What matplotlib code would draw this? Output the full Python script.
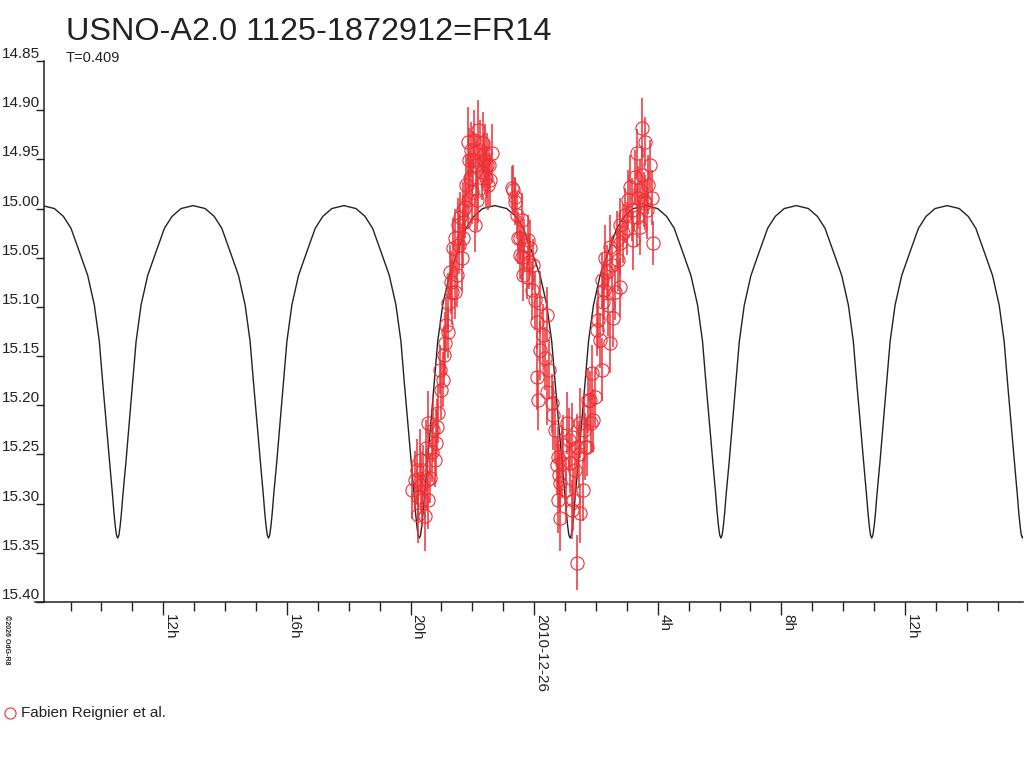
import numpy as np
import matplotlib
matplotlib.use("Agg")
import matplotlib.pyplot as plt
from matplotlib.ticker import FixedLocator, MultipleLocator
from matplotlib.lines import Line2D

# model light curve: one half-cycle (min -> max), mirrored
shape_phase = [0.0, 0.008, 0.016, 0.025, 0.035, 0.045, 0.055, 0.077, 0.10, 0.122,
               0.155, 0.199, 0.254, 0.31, 0.36, 0.42, 0.5]
shape_mag = [15.335, 15.332, 15.323, 15.309, 15.290, 15.273, 15.257, 15.217, 15.176, 15.135,
             15.098, 15.068, 15.044, 15.020, 15.008, 15.000, 14.997]
min_time = 1.165      # hours from 2010-12-26 00:00
half_period = 4.88    # hours between minima

# observations (hours from 2010-12-26 00:00 UT, mag, error)
obs_hours = [-3.85, -3.75, -3.75, -3.69, -3.66, -3.59, -3.53, -3.50, -3.43, -3.43,
             -3.37, -3.30, -3.20, -3.17, -3.14, -3.11, -3.04, -2.95, -2.91, -2.88,
             -2.78, -2.78, -2.72, -2.65, -2.62, -2.56, -2.56, -2.49, -2.46, -2.39,
             -2.33, -2.30, -2.30, -2.23, -2.14, -2.14, -2.07, -2.01, -1.97, -1.91,
             -1.84, -1.81, -1.81, -1.68, -1.65, -1.59, -1.52, -1.42, -1.36, -1.49,
             -0.71, -0.68, -0.61, -0.61, -0.52, -0.45, -0.45, -0.39, -0.39, -0.36,
             -0.23, -0.19, -0.13, -0.06, -0.03, 0.10, 0.19, 0.19, 0.10, 0.13,
             0.36, 0.42, 0.42, 0.58, 0.61, 0.74, 0.78, 0.78, 0.84, 0.84,
             0.91, 1.07, 1.17, 1.23, 1.23, 1.26, 1.39, 1.39, 1.49, 1.49,
             1.59, 1.65, 1.72, 1.75, 1.84, 1.88, 1.91, 1.97, 2.04, 2.07,
             2.20, 2.20, 2.23, 2.30, 2.36, 2.46, 2.46, 2.56, 2.62, 2.72,
             2.78, 2.78, 2.78, 2.88, 3.01, 3.11, 3.20, 3.27, 3.33, 3.33,
             3.37, 3.43, 3.43, 3.50, 3.59, 3.59, 3.66, 3.75, 3.82, 3.85,
             -3.95, -3.79, -3.62, -3.46, -3.27, -3.01, -2.85, -2.69, -2.43, -2.27,
             -2.20, -2.10, -2.04, -1.94, -1.88, -1.75, -1.62, -1.55, -1.46, -0.55,
             -0.32, -0.16, 0.03, 0.29, 0.49, 0.68, 0.81, 0.94, 1.04, 1.13,
             1.33, 1.46, 1.62, 1.81, 2.14, 2.27, 2.40, 2.52, 2.69, 2.95,
             3.04, 3.17, 3.50, 3.56, 3.69]
obs_mag = [15.276, 15.312, 15.293, 15.256, 15.281, 15.266, 15.313, 15.243, 15.296, 15.218,
           15.274, 15.248, 15.256, 15.238, 15.222, 15.208, 15.164, 15.174, 15.149, 15.137,
           15.126, 15.096, 15.065, 15.085, 15.040, 15.085, 15.030, 15.068, 15.017, 15.009,
           15.050, 15.030, 15.001, 14.998, 14.991, 14.932, 14.969, 14.983, 14.951, 15.017,
           14.991, 14.920, 14.981, 14.963, 14.933, 14.944, 14.956, 14.971, 14.944, 14.976,
           14.979, 14.981, 14.988, 14.993, 15.030, 15.030, 15.047, 15.012, 15.049, 15.068,
           15.070, 15.032, 15.040, 15.083, 15.057, 15.115, 15.096, 15.144, 15.171, 15.195,
           15.152, 15.108, 15.187, 15.198, 15.210, 15.261, 15.253, 15.296, 15.279, 15.315,
           15.259, 15.218, 15.259, 15.232, 15.306, 15.296, 15.242, 15.360, 15.218, 15.310,
           15.286, 15.242, 15.242, 15.195, 15.218, 15.167, 15.215, 15.192, 15.123, 15.113,
           15.164, 15.073, 15.095, 15.050, 15.065, 15.137, 15.039, 15.111, 15.085, 15.052,
           15.080, 15.035, 15.017, 15.025, 15.020, 14.978, 15.032, 14.968, 15.009, 14.944,
           14.989, 14.981, 15.019, 14.918, 14.932, 14.994, 15.001, 14.956, 14.989, 15.035,
           15.286, 15.266, 15.296, 15.276, 15.225, 15.184, 15.118, 15.075, 15.037, 15.014,
           14.976, 14.951, 14.940, 14.930, 14.956, 14.940, 14.951, 14.969, 14.956, 15.007,
           15.037, 15.054, 15.093, 15.129, 15.164, 15.225, 15.271, 15.240, 15.286, 15.235,
           15.266, 15.250, 15.225, 15.195, 15.134, 15.083, 15.098, 15.057, 15.032, 15.007,
           14.991, 15.001, 14.966, 14.991, 14.976]
obs_err = [0.030, 0.028, 0.025, 0.032, 0.030, 0.026, 0.035, 0.028, 0.030, 0.033,
           0.025, 0.030, 0.027, 0.034, 0.028, 0.030, 0.025, 0.028, 0.030, 0.032,
           0.026, 0.030, 0.028, 0.033, 0.030, 0.027, 0.030, 0.032, 0.028, 0.026,
           0.034, 0.030, 0.028, 0.032, 0.030, 0.035, 0.028, 0.033, 0.030, 0.027,
           0.032, 0.030, 0.034, 0.028, 0.031, 0.030, 0.033, 0.027, 0.030, 0.025,
           0.022, 0.025, 0.020, 0.024, 0.026, 0.022, 0.025, 0.028, 0.024, 0.026,
           0.022, 0.025, 0.028, 0.030, 0.026, 0.028, 0.032, 0.030, 0.034, 0.030,
           0.032, 0.028, 0.033, 0.030, 0.035, 0.030, 0.032, 0.034, 0.030, 0.033,
           0.035, 0.032, 0.030, 0.034, 0.030, 0.032, 0.033, 0.028, 0.036, 0.030,
           0.032, 0.034, 0.030, 0.033, 0.030, 0.028, 0.032, 0.030, 0.027, 0.030,
           0.032, 0.028, 0.030, 0.033, 0.028, 0.030, 0.032, 0.030, 0.028, 0.032,
           0.030, 0.033, 0.028, 0.030, 0.027, 0.032, 0.030, 0.028, 0.030, 0.025,
           0.032, 0.030, 0.028, 0.030, 0.025, 0.028, 0.030, 0.026, 0.028, 0.022,
           0.030, 0.032, 0.028, 0.030, 0.033, 0.030, 0.028, 0.032, 0.030, 0.028,
           0.030, 0.033, 0.028, 0.030, 0.032, 0.030, 0.028, 0.030, 0.026, 0.024,
           0.026, 0.028, 0.030, 0.032, 0.030, 0.034, 0.032, 0.030, 0.033, 0.032,
           0.030, 0.034, 0.032, 0.030, 0.028, 0.030, 0.032, 0.028, 0.030, 0.028,
           0.030, 0.032, 0.030, 0.028, 0.030]

y_ticks = [14.85, 14.90, 14.95, 15.00, 15.05, 15.10, 15.15, 15.20, 15.25, 15.30, 15.35, 15.40]
x_major = [-12, -8, -4, 0, 4, 8, 12]
x_labels = ["12h", "16h", "20h", "2010-12-26", "4h", "8h", "12h"]

title = "USNO-A2.0 1125-1872912=FR14"
subtitle = "T=0.409"
legend_label = "Fabien Reignier et al."

RED = "#ee3035"

plt.rcParams["font.family"] = ["Liberation Sans", "DejaVu Sans"]

fig = plt.figure(figsize=(10.24, 7.68), dpi=100)
ax = fig.add_axes([44 / 1024, 166 / 768, 979 / 1024, 541 / 768])

# build model curve from the read shape
cycle_phase = shape_phase + [1 - p for p in reversed(shape_phase[:-1])]
cycle_mag = shape_mag + list(reversed(shape_mag[:-1]))
curve_t, curve_m = [], []
for k in range(-4, 4):
    for p, m in zip(cycle_phase, cycle_mag):
        curve_t.append(min_time + (k + p) * half_period)
        curve_m.append(m)
ax.plot(curve_t, curve_m, color="#222222", lw=1.0, zorder=2)

ax.errorbar(obs_hours, obs_mag, yerr=obs_err, fmt="none", ecolor=RED,
            elinewidth=1.1, capsize=0, zorder=3)
ax.plot(obs_hours, obs_mag, "o", ms=9.5, mfc="none", mec=RED, mew=0.8, zorder=4)

ax.set_xlim(-15.86, 15.82)
ax.set_ylim(15.40, 14.85)

for s in ["top", "right"]:
    ax.spines[s].set_visible(False)
for s in ["left", "bottom"]:
    ax.spines[s].set_linewidth(1.1)
    ax.spines[s].set_color("#222222")
ax.add_line(Line2D([-0.009, 0], [0, 0], transform=ax.transAxes, color="#222222",
                   lw=1.1, clip_on=False))

ax.yaxis.set_major_locator(FixedLocator(y_ticks))
ax.set_yticklabels([f"{v:.2f}" for v in y_ticks], fontsize=11, color="#222222")
ax.tick_params(axis="y", direction="out", length=6, width=1.0, pad=-3, color="#222222")
for lab in ax.get_yticklabels():
    lab.set_va("bottom")

ax.xaxis.set_major_locator(FixedLocator(x_major))
ax.xaxis.set_minor_locator(MultipleLocator(1))
ax.set_xticklabels(x_labels, fontsize=11, color="#222222", rotation=-90,
                   rotation_mode="anchor", ha="left", va="bottom")
ax.tick_params(axis="x", which="major", direction="out", length=9, width=1.0, pad=0,
               color="#222222")
ax.tick_params(axis="x", which="minor", direction="out", length=6.5, width=1.0,
               color="#222222")

fig.text(66 / 1024, 1 - 40 / 768, title, fontsize=23.3, color="#222222", va="baseline")
fig.text(66 / 1024, 1 - 62 / 768, subtitle, fontsize=10.5, color="#222222", va="baseline")

# legend
fig.add_artist(Line2D([10 / 1024], [1 - 713 / 768], marker="o", ms=8, mfc="none",
                      mec=RED, mew=0.8, transform=fig.transFigure))
fig.text(21 / 1024, 1 - 713 / 768, legend_label, fontsize=11, color="#222222", va="center")

fig.text(3 / 1024, 1 - 615 / 768, "\u00a92026 OdG-R8", fontsize=5, rotation=-90,
         va="top", ha="left", color="#222222", weight="bold")

fig.savefig("out.png", dpi=100)
